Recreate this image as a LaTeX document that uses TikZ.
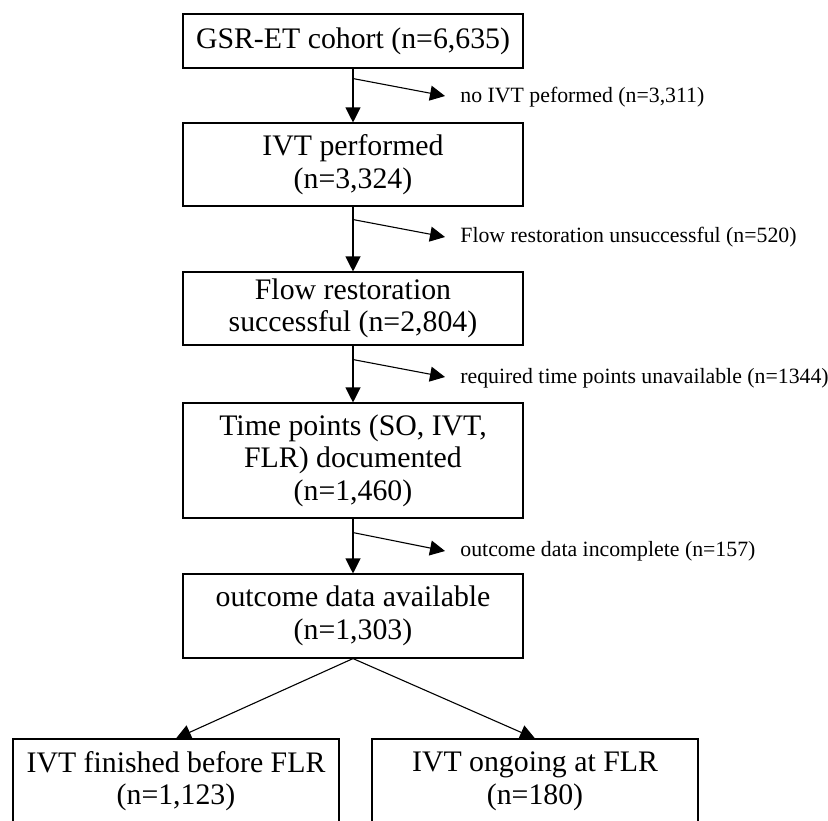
\documentclass[tikz,border=0pt]{standalone}
\usepackage{fontspec}
\setmainfont{Liberation Serif}
\usetikzlibrary{arrows.meta,calc}
\begin{document}
\begin{tikzpicture}[x=0.5pt,y=-0.5pt,
  box/.style={draw,line width=0.55pt,minimum width=170pt,align=center,inner sep=0pt,
    font=\fontsize{14.9}{16.3}\selectfont},
  sidelabel/.style={anchor=west,inner sep=0pt,font=\fontsize{10.9}{12}\selectfont},
  arr/.style={-{Triangle[length=7.5pt,width=7.5pt]},line width=0.55pt}]
\clip (0,0) rectangle (828,820);
\fill[white] (0,0) rectangle (828,820);
% main boxes
\node[box,minimum height=27pt] (b1) at (353,41) {GSR-ET cohort (n=6,635)};
\node[box,minimum height=41.5pt] (b2) at (353,164.5) {IVT performed\\(n=3,324)};
\node[box,minimum height=36.5pt] (b3) at (353,308.5) {Flow restoration\\successful (n=2,804)};
\node[box,minimum height=57.5pt] (b4) at (353,460.5) {Time points (SO, IVT,\\FLR) documented\\(n=1,460)};
\node[box,minimum height=42pt] (b5) at (353,616) {outcome data available\\(n=1,303)};
\node[box,minimum width=163pt,minimum height=42pt] (b6) at (176,781) {IVT finished before FLR\\(n=1,123)};
\node[box,minimum width=163pt,minimum height=42pt] (b7) at (535,781) {IVT ongoing at FLR\\(n=180)};
% main arrows
\draw[arr] (b1) -- (b2);
\draw[arr] (b2) -- (b3);
\draw[arr] (b3) -- (b4);
\draw[arr] (b4) -- (b5);
\draw[arr] (b5.south) -- (b6.north);
\draw[arr] (b5.south) -- (b7.north);
% exclusion labels
\node[sidelabel] (l1) at (460,97) {no IVT peformed (n=3,311)};
\node[sidelabel] (l2) at (460,237) {Flow restoration unsuccessful (n=520)};
\node[sidelabel] (l3) at (460,378) {required time points unavailable (n=1344)};
\node[sidelabel] (l4) at (460,551) {outcome data incomplete (n=157)};
% exclusion arrows
\coordinate (s1) at ($(b1.south)+(0,10)$);
\coordinate (s2) at ($(b2.south)+(0,13)$);
\coordinate (s3) at ($(b3.south)+(0,14)$);
\coordinate (s4) at ($(b4.south)+(0,14)$);
\coordinate (t1) at ($(l1.west)+(-15,-1)$);
\coordinate (t2) at ($(l2.west)+(-15,0)$);
\coordinate (t3) at ($(l3.west)+(-15,-1)$);
\coordinate (t4) at ($(l4.west)+(-15,0)$);
\draw[arr] (s1) -- (t1);
\draw[arr] (s2) -- (t2);
\draw[arr] (s3) -- (t3);
\draw[arr] (s4) -- (t4);
\end{tikzpicture}
\end{document}
